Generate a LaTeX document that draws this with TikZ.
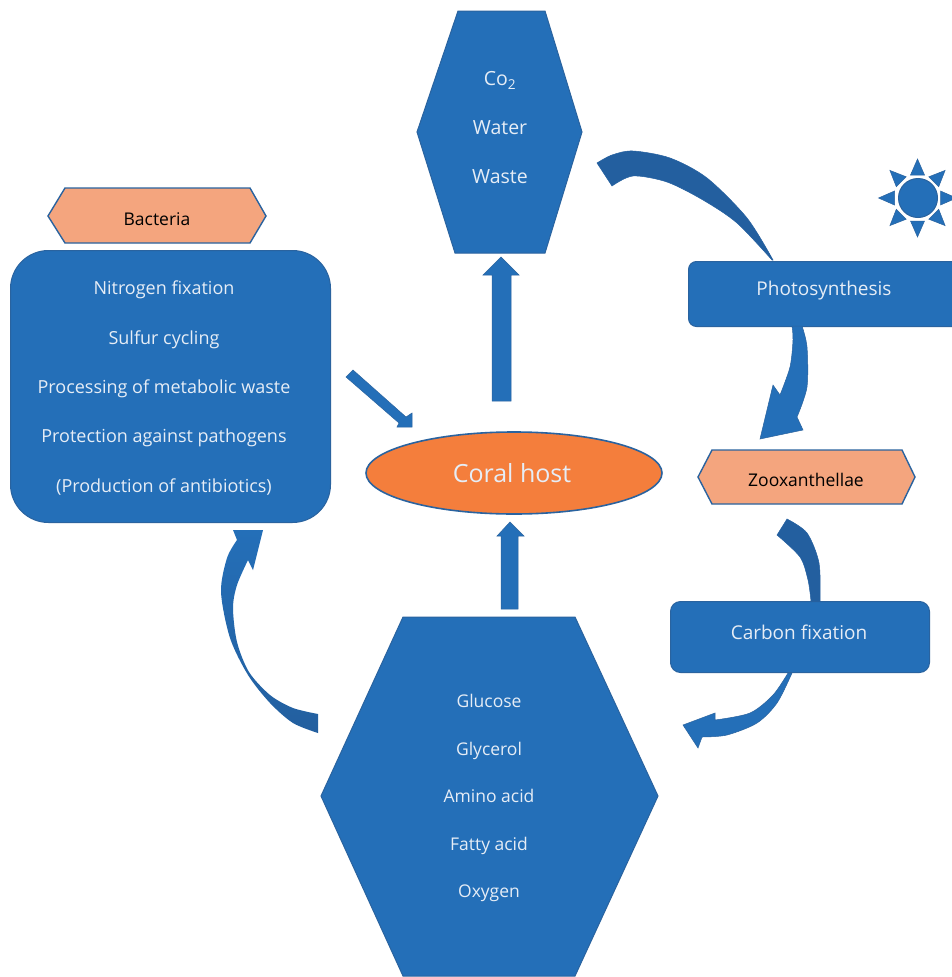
\documentclass[tikz,border=0pt]{standalone}
\usepackage{fontspec}
\setmainfont{Open Sans}
\usetikzlibrary{shapes.geometric}
\definecolor{mainblue}{HTML}{246FB8}
\definecolor{edgeblue}{HTML}{2A639F}
\definecolor{darkblue}{HTML}{235F9F}
\definecolor{peach}{HTML}{F4A57E}
\definecolor{coral}{HTML}{F47E3C}
\definecolor{lighttext}{HTML}{E6EDF6}
\tikzset{
  x=1pt,y=-1pt,
  panel/.style={fill=mainblue,draw=edgeblue,line width=1pt},
  peachhex/.style={fill=peach,draw=edgeblue,line width=1.4pt},
  blockarrow/.style={fill=mainblue,draw=edgeblue,line width=.5pt},
  darkarrow/.style={fill=darkblue,draw=darkblue,line width=.5pt},
  fadearrow/.style={top color=mainblue,bottom color=darkblue,draw=none},
  lbl/.style={text=lighttext,align=center,inner sep=0pt},
  darklbl/.style={text=black,inner sep=0pt,font=\fontsize{17.5}{20}\selectfont},
  box/.style={panel,rectangle,inner sep=0pt,text=lighttext,anchor=north west}
}
\begin{document}
\begin{tikzpicture}
\clip (0,0) rectangle (952,977);
\fill[white] (0,0) rectangle (952,977);
% shapes
\draw[panel] (458,11) -- (545,11) -- (582,132) -- (545,253) -- (455,253) -- (417,132) -- cycle;
\draw[panel] (403,617) -- (575,617) -- (658,796) -- (575,976) -- (403,976) -- (321,796) -- cycle;
\draw[peachhex] (65,188) -- (250,188) -- (266,216) -- (250,243) -- (65,243) -- (48,216) -- cycle;
\draw[peachhex] (712,450) -- (902,450) -- (915,477) -- (902,504) -- (712,504) -- (698,477) -- cycle;
\node[box,rounded corners=38pt,minimum width=320pt,minimum height=272pt] (bactbox) at (10,250) {};
\node[box,rounded corners=8pt,minimum width=280pt,minimum height=65pt] (photo) at (688,261) {};
\node[box,rounded corners=10pt,minimum width=259pt,minimum height=71pt] (carbon) at (670,601) {};
\node[ellipse,fill=coral,draw=edgeblue,line width=1.6pt,minimum width=296pt,minimum height=82pt,inner sep=0pt] (coral) at (514,473) {};
% labels
\node[lbl,font=\fontsize{19.5}{49}\selectfont] (wastes) at (500,128) {Co\textsubscript{2}\\Water\\Waste};
\node[lbl,font=\fontsize{17.5}{47.5}\selectfont] (products) at (489,798) {Glucose\\Glycerol\\Amino acid\\Fatty acid\\Oxygen};
\node[lbl,font=\fontsize{18}{49.3}\selectfont] (functions) at (164,388) {Nitrogen fixation\\Sulfur cycling\\Processing of metabolic waste\\Protection against pathogens\\(Production of antibiotics)};
\node[darklbl] (bacteria) at (157,219) {Bacteria};
\node[darklbl] (zoox) at (806,480) {Zooxanthellae};
\node[text=lighttext,inner sep=0pt,font=\fontsize{19}{22}\selectfont] (phototext) at (824,291) {Photosynthesis};
\node[text=lighttext,inner sep=0pt,font=\fontsize{19}{22}\selectfont] (carbontext) at (799,632) {Carbon fixation};
\node[text=lighttext,inner sep=0pt,font=\fontsize{25}{28}\selectfont] (coraltext) at (512,473) {Coral host};
% straight arrows
\draw[blockarrow] (492,401) -- (492,275) -- (483,275) -- (501,257) -- (519,275) -- (511,275) -- (511,401) -- cycle;
\draw[blockarrow] (501,609) -- (501,536) -- (497,536) -- (510,522) -- (524,536) -- (518,536) -- (518,609) -- cycle;
\draw[blockarrow] (346,377) -- (353,370) -- (406,417) -- (412,413) -- (412,427) -- (397,427) -- (399,423) -- cycle;
% curved arrows
\draw[darkarrow] plot[smooth] coordinates {(597,163) (612,155) (633,151) (670,158) (707,178) (747,218) (773,260)}
  -- plot[smooth] coordinates {(772,260) (737,223) (703,200) (667,182) (633,176) (612,186)} -- cycle;
\draw[blockarrow] plot[smooth] coordinates {(802,326) (807,347) (807,387) (797,417)} -- (803,430) -- (760,439) -- (773,385) -- (780,395)
  -- plot[smooth] coordinates {(780,395) (790,367) (793,340) (792,326)} -- cycle;
\draw[darkarrow] plot[smooth] coordinates {(820,601) (819,563) (807,533) (787,519)} -- (777,535)
  -- plot[smooth] coordinates {(777,535) (800,557) (808,580) (811,601)} -- cycle;
\draw[blockarrow] plot[smooth] coordinates {(792,673) (777,703) (757,723) (727,735) (702,737)} -- (698,748) -- (683,725) -- (715,713) -- (715,720)
  -- plot[smooth] coordinates {(715,720) (750,713) (773,695) (788,673)} -- cycle;
\path[fadearrow] (318,733) -- (318,714)
  -- plot[smooth] coordinates {(318,714) (293,708) (270,695) (249,672) (237,642) (233,608) (237,585) (248,560)}
  -- (253,570) -- (263,530) -- (233,530) -- (237,540)
  -- plot[smooth] coordinates {(237,540) (227,558) (221,592) (230,638) (248,675) (270,703) (293,723) (318,733)} -- cycle;
% sun
\draw[panel] (918,198) circle (19.5);
\foreach \a in {0,45,...,315}{
  \draw[blockarrow,shift={(917.5,198)},rotate=\a] (-7,-23) -- (7,-23) -- (0,-39) -- cycle;
}
\end{tikzpicture}
\end{document}
